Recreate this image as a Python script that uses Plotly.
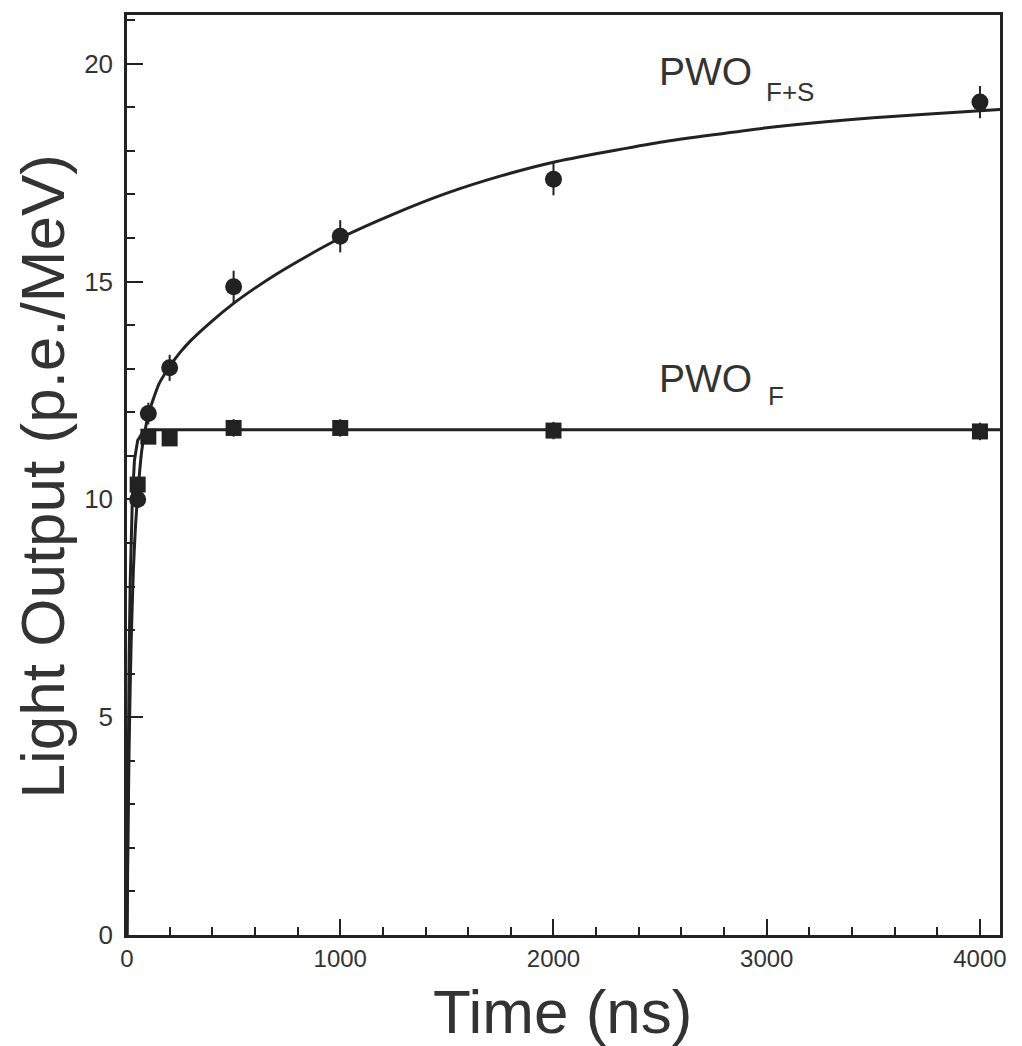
import plotly.graph_objects as go

# ---------------- data ----------------
time_fs = [50, 100, 200, 500, 1000, 2000, 4000]
lo_fs = [10.0, 11.97, 13.02, 14.88, 16.04, 17.35, 19.12]
err_fs = [0.2, 0.25, 0.3, 0.37, 0.37, 0.37, 0.37]

time_f = [50, 100, 200, 500, 1000, 2000, 4000]
lo_f = [10.34, 11.44, 11.4, 11.64, 11.64, 11.58, 11.56]
err_f = [0.15, 0.15, 0.15, 0.2, 0.2, 0.2, 0.2]

# fitted curves
fit_fs_t = [0, 5, 10, 15, 20, 30, 40, 50, 70, 100, 150, 200, 250, 300, 400, 500,
            600, 700, 850, 1000, 1250, 1500, 1750, 2000, 2500, 3000, 3500, 4000, 4094]
fit_fs_y = [0, 2.5, 4.3, 5.7, 6.8, 8.4, 9.4, 10.1, 11.15, 11.95, 12.65, 13.05, 13.38,
            13.65, 14.1, 14.5, 14.85, 15.17, 15.6, 16.0, 16.55, 17.03, 17.42, 17.74,
            18.2, 18.53, 18.76, 18.92, 18.95]

fit_f_t = [0, 5, 10, 15, 20, 25, 35, 50, 75, 100, 150, 4094]
fit_f_y = [0, 3.9, 6.4, 8.1, 9.2, 10.0, 10.9, 11.35, 11.55, 11.6, 11.6, 11.6]

x_ticks = [0, 1000, 2000, 3000, 4000]
y_ticks = [0, 5, 10, 15, 20]

INK = "#222222"
TXT = "#333333"
FONT = "Liberation Sans, Arial, sans-serif"

fig = go.Figure()

fig.add_trace(go.Scatter(x=fit_fs_t, y=fit_fs_y, mode="lines",
                         line=dict(color=INK, width=3, shape="spline", smoothing=0.5),
                         hoverinfo="skip", showlegend=False))
fig.add_trace(go.Scatter(x=fit_f_t, y=fit_f_y, mode="lines",
                         line=dict(color=INK, width=3),
                         hoverinfo="skip", showlegend=False))

fig.add_trace(go.Scatter(x=time_fs, y=lo_fs, mode="markers",
                         marker=dict(symbol="circle", size=17, color=INK),
                         error_y=dict(type="data", array=err_fs, color=INK,
                                      thickness=2, width=0),
                         showlegend=False, name="PWO F+S"))
fig.add_trace(go.Scatter(x=time_f, y=lo_f, mode="markers",
                         marker=dict(symbol="square", size=16, color=INK),
                         error_y=dict(type="data", array=err_f, color=INK,
                                      thickness=2, width=0),
                         showlegend=False, name="PWO F"))

W, H = 1022, 1046
L, R, T, B = 127, 22, 12, 111

fig.update_layout(
    width=W, height=H,
    margin=dict(l=L, r=R, t=T, b=B),
    paper_bgcolor="white", plot_bgcolor="white",
    font=dict(family=FONT, color=TXT),
    xaxis=dict(range=[0, 4094], tickvals=x_ticks, ticks="inside", ticklen=16,
               tickwidth=1.5, tickcolor=INK, showline=True, linecolor=INK,
               linewidth=2.5, mirror=True, showgrid=False, zeroline=False,
               tickfont=dict(size=24, color=TXT),
               minor=dict(dtick=200, ticks="inside", ticklen=8, tickcolor=INK)),
    yaxis=dict(range=[0, 21.12], tickvals=y_ticks, ticks="inside", ticklen=16,
               tickwidth=1.5, tickcolor=INK, showline=True, linecolor=INK,
               linewidth=2.5, mirror=True, showgrid=False, zeroline=False,
               tickfont=dict(size=26, color=TXT), ticklabelstandoff=6,
               minor=dict(dtick=1, ticks="inside", ticklen=8, tickcolor=INK)),
)

# axis titles as paper-positioned text
fig.add_annotation(text="Time (ns)", xref="paper", yref="paper",
                   x=(562 - L) / (W - L - R), y=-(1012 - (H - B)) / (H - T - B),
                   xanchor="center", yanchor="middle", showarrow=False,
                   font=dict(size=62, color=TXT, family=FONT))
fig.add_annotation(text="Light Output (p.e./MeV)", xref="paper", yref="paper",
                   x=-(L - 42) / (W - L - R), y=((H - B) - 475) / (H - T - B),
                   xanchor="center", yanchor="middle", textangle=-90, showarrow=False,
                   font=dict(size=62, color=TXT, family=FONT))

# curve labels
fig.add_annotation(text="PWO", x=2485, y=19.82, xanchor="left", yanchor="middle",
                   showarrow=False, font=dict(size=39, color=TXT, family=FONT))
fig.add_annotation(text="F+S", x=2985, y=19.35, xanchor="left", yanchor="middle",
                   showarrow=False, font=dict(size=26, color=TXT, family=FONT))
fig.add_annotation(text="PWO", x=2485, y=12.77, xanchor="left", yanchor="middle",
                   showarrow=False, font=dict(size=39, color=TXT, family=FONT))
fig.add_annotation(text="F", x=2995, y=12.37, xanchor="left", yanchor="middle",
                   showarrow=False, font=dict(size=26, color=TXT, family=FONT))

fig.write_html("out.html")
